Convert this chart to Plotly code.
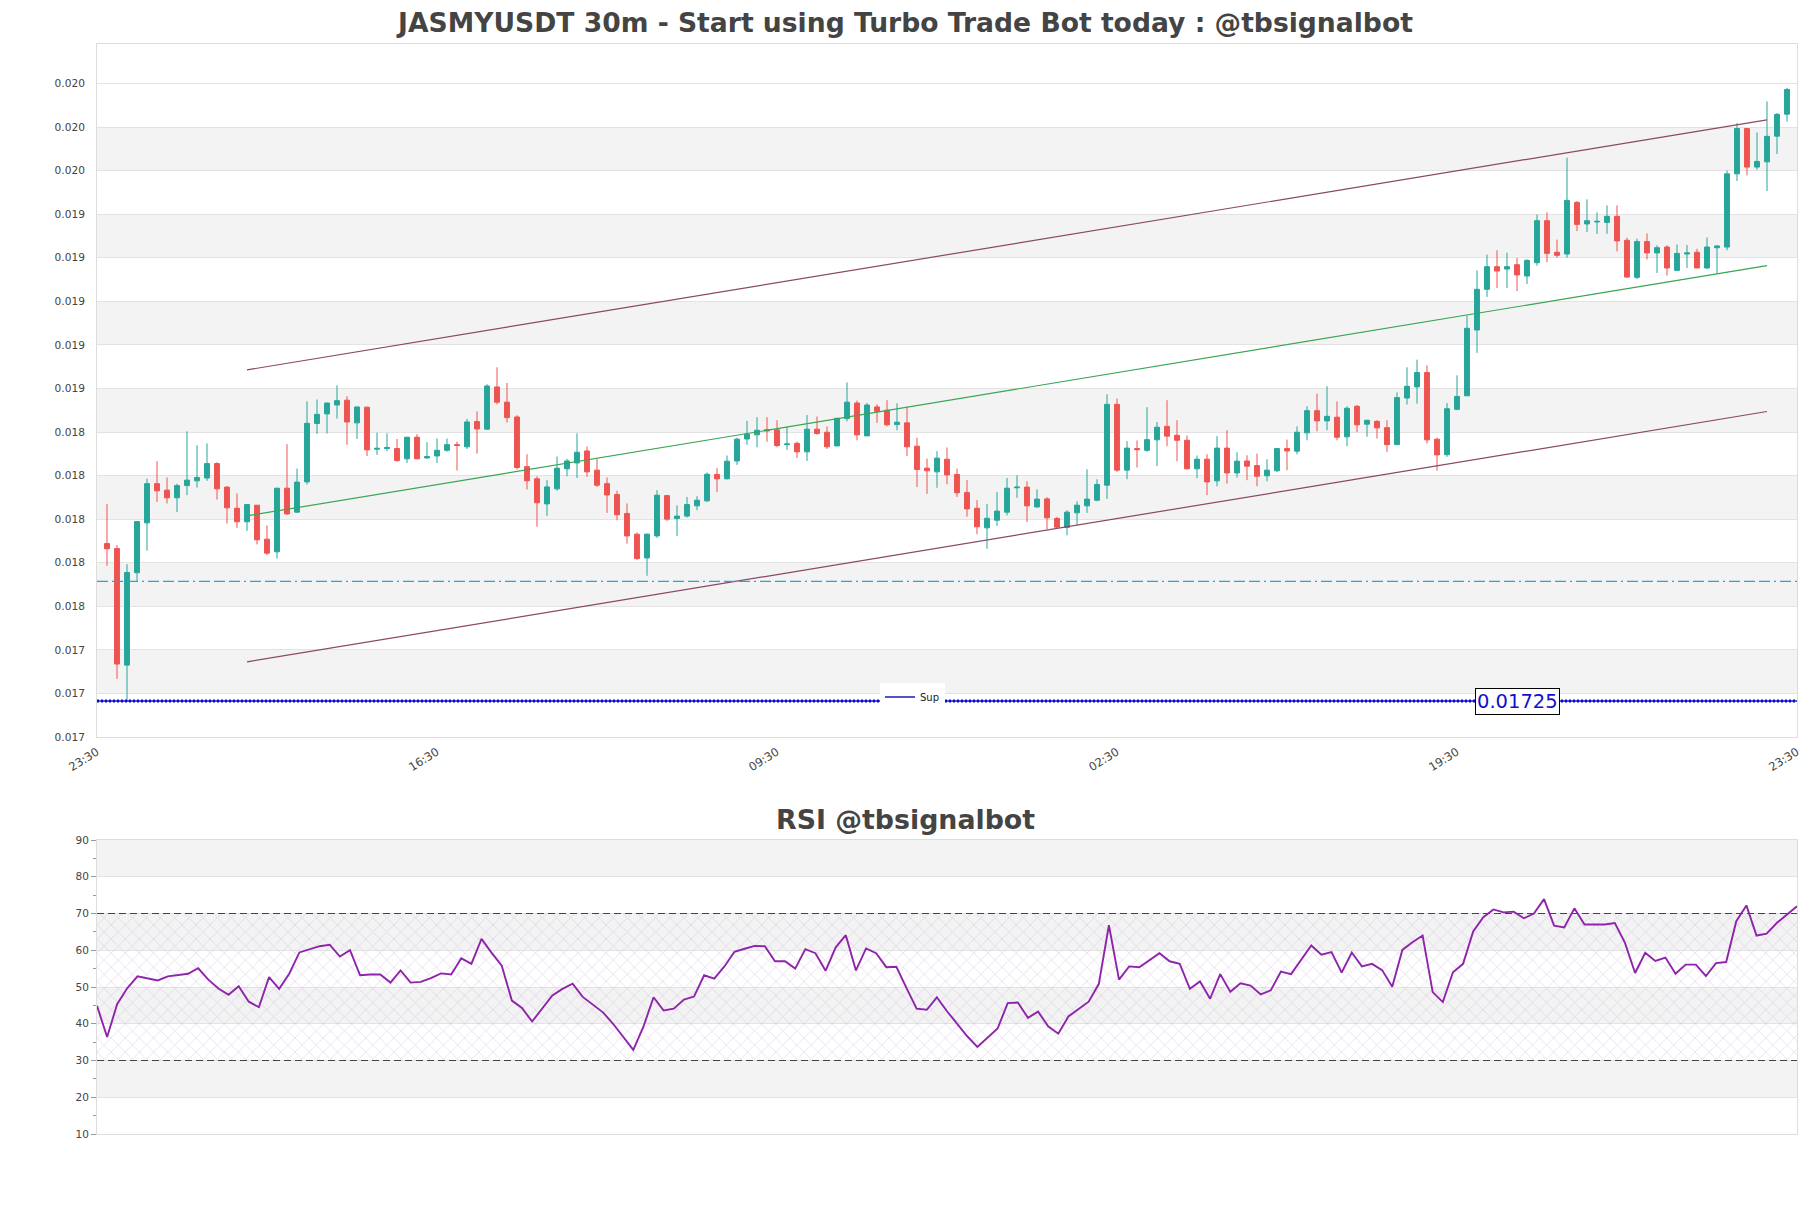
import plotly.graph_objects as go

# ---------------- data (30m candles) ----------------
opens = [0.017973, 0.017950, 0.017415, 0.017839, 0.018068, 0.018248, 0.018218, 0.018183, 0.018239, 0.018261,
         0.018274, 0.018340, 0.018232, 0.018135, 0.018073, 0.018149, 0.017993, 0.017935, 0.018227, 0.018117,
         0.018256, 0.018524, 0.018568, 0.018609, 0.018631, 0.018527, 0.018599, 0.018406, 0.018409, 0.018409,
         0.018362, 0.018461, 0.018366, 0.018375, 0.018401, 0.018427, 0.018417, 0.018533, 0.018498, 0.018692,
         0.018622, 0.018554, 0.018326, 0.018270, 0.018155, 0.018224, 0.018316, 0.018343, 0.018398, 0.018310,
         0.018248, 0.018198, 0.018111, 0.018016, 0.017907, 0.018008, 0.018193, 0.018088, 0.018099, 0.018146,
         0.018169, 0.018290, 0.018270, 0.018352, 0.018453, 0.018472, 0.018496, 0.018495, 0.018427, 0.018433,
         0.018394, 0.018498, 0.018484, 0.018421, 0.018547, 0.018618, 0.018467, 0.018600, 0.018585, 0.018519,
         0.018527, 0.018420, 0.018319, 0.018302, 0.018360, 0.018290, 0.018207, 0.018135, 0.018045, 0.018080,
         0.018117, 0.018229, 0.018232, 0.018141, 0.018178, 0.018088, 0.018047, 0.018114, 0.018146, 0.018172,
         0.018241, 0.018612, 0.018310, 0.018409, 0.018401, 0.018449, 0.018511, 0.018470, 0.018447, 0.018316,
         0.018360, 0.018261, 0.018411, 0.018297, 0.018352, 0.018331, 0.018284, 0.018307, 0.018409, 0.018397,
         0.018481, 0.018583, 0.018536, 0.018553, 0.018463, 0.018603, 0.018521, 0.018534, 0.018505, 0.018427,
         0.018641, 0.018692, 0.018758, 0.018452, 0.018381, 0.018589, 0.018651, 0.018953, 0.019140, 0.019244,
         0.019233, 0.019253, 0.019201, 0.019262, 0.019455, 0.019310, 0.019302, 0.019539, 0.019440, 0.019449,
         0.019447, 0.019475, 0.019365, 0.019195, 0.019359, 0.019307, 0.019334, 0.019227, 0.019302, 0.019310,
         0.019238, 0.019331, 0.019334, 0.019670, 0.019878, 0.019701, 0.019725, 0.019843, 0.019944]
highs = [0.018154, 0.017966, 0.017878, 0.018076, 0.018271, 0.018351, 0.018276, 0.018248, 0.018488, 0.018424,
         0.018433, 0.018346, 0.018236, 0.018203, 0.018152, 0.018149, 0.018056, 0.018229, 0.018429, 0.018317,
         0.018626, 0.018634, 0.018620, 0.018699, 0.018649, 0.018602, 0.018601, 0.018482, 0.018479, 0.018453,
         0.018463, 0.018475, 0.018438, 0.018455, 0.018455, 0.018441, 0.018545, 0.018580, 0.018704, 0.018782,
         0.018710, 0.018562, 0.018383, 0.018282, 0.018264, 0.018372, 0.018362, 0.018479, 0.018418, 0.018362,
         0.018276, 0.018215, 0.018157, 0.018024, 0.018019, 0.018218, 0.018195, 0.018148, 0.018187, 0.018190,
         0.018299, 0.018319, 0.018377, 0.018459, 0.018536, 0.018553, 0.018553, 0.018539, 0.018508, 0.018441,
         0.018563, 0.018556, 0.018511, 0.018550, 0.018713, 0.018629, 0.018618, 0.018612, 0.018631, 0.018617,
         0.018599, 0.018459, 0.018363, 0.018397, 0.018414, 0.018317, 0.018264, 0.018172, 0.018154, 0.018209,
         0.018274, 0.018287, 0.018259, 0.018222, 0.018186, 0.018096, 0.018126, 0.018167, 0.018314, 0.018268,
         0.018658, 0.018638, 0.018443, 0.018446, 0.018599, 0.018531, 0.018631, 0.018539, 0.018469, 0.018377,
         0.018383, 0.018466, 0.018493, 0.018392, 0.018378, 0.018386, 0.018360, 0.018412, 0.018450, 0.018511,
         0.018603, 0.018661, 0.018695, 0.018625, 0.018603, 0.018609, 0.018540, 0.018539, 0.018539, 0.018667,
         0.018782, 0.018817, 0.018791, 0.018459, 0.018618, 0.018745, 0.019019, 0.019227, 0.019299, 0.019319,
         0.019308, 0.019284, 0.019277, 0.019484, 0.019493, 0.019368, 0.019744, 0.019545, 0.019553, 0.019493,
         0.019525, 0.019525, 0.019377, 0.019372, 0.019397, 0.019342, 0.019342, 0.019346, 0.019343, 0.019326,
         0.019378, 0.019342, 0.019686, 0.019903, 0.019881, 0.019860, 0.020002, 0.019949, 0.020065]
lows = [0.017871, 0.017352, 0.017250, 0.017799, 0.017940, 0.018164, 0.018157, 0.018118, 0.018195, 0.018230,
        0.018261, 0.018175, 0.018065, 0.018045, 0.018031, 0.017969, 0.017921, 0.017904, 0.018105, 0.018114,
        0.018244, 0.018476, 0.018478, 0.018547, 0.018426, 0.018453, 0.018375, 0.018380, 0.018397, 0.018348,
        0.018343, 0.018360, 0.018362, 0.018343, 0.018395, 0.018308, 0.018407, 0.018386, 0.018495, 0.018612,
        0.018528, 0.018313, 0.018221, 0.018050, 0.018100, 0.018215, 0.018282, 0.018274, 0.018279, 0.018233,
        0.018114, 0.018080, 0.017972, 0.017898, 0.017825, 0.017999, 0.018077, 0.018008, 0.018092, 0.018126,
        0.018164, 0.018210, 0.018268, 0.018334, 0.018426, 0.018415, 0.018440, 0.018415, 0.018403, 0.018366,
        0.018352, 0.018473, 0.018407, 0.018421, 0.018534, 0.018447, 0.018467, 0.018527, 0.018511, 0.018493,
        0.018374, 0.018232, 0.018201, 0.018229, 0.018245, 0.018187, 0.018096, 0.018016, 0.017949, 0.018054,
        0.018102, 0.018183, 0.018071, 0.018137, 0.018037, 0.018045, 0.018011, 0.018056, 0.018114, 0.018167,
        0.018178, 0.018302, 0.018268, 0.018322, 0.018394, 0.018328, 0.018420, 0.018351, 0.018314, 0.018273,
        0.018195, 0.018236, 0.018248, 0.018276, 0.018264, 0.018236, 0.018259, 0.018302, 0.018310, 0.018383,
        0.018447, 0.018488, 0.018493, 0.018447, 0.018420, 0.018484, 0.018463, 0.018455, 0.018394, 0.018426,
        0.018611, 0.018615, 0.018432, 0.018308, 0.018371, 0.018585, 0.018651, 0.018848, 0.019105, 0.019146,
        0.019146, 0.019132, 0.019164, 0.019248, 0.019265, 0.019285, 0.019285, 0.019407, 0.019403, 0.019394,
        0.019395, 0.019314, 0.019194, 0.019187, 0.019277, 0.019215, 0.019203, 0.019225, 0.019238, 0.019237,
        0.019233, 0.019212, 0.019319, 0.019637, 0.019663, 0.019689, 0.019591, 0.019761, 0.019910]
closes = [0.017949, 0.017420, 0.017840, 0.018074, 0.018248, 0.018215, 0.018183, 0.018239, 0.018264, 0.018276,
          0.018340, 0.018224, 0.018137, 0.018073, 0.018152, 0.017990, 0.017929, 0.018227, 0.018109, 0.018255,
          0.018525, 0.018566, 0.018618, 0.018629, 0.018531, 0.018600, 0.018403, 0.018410, 0.018414, 0.018354,
          0.018461, 0.018362, 0.018372, 0.018401, 0.018427, 0.018423, 0.018531, 0.018499, 0.018696, 0.018622,
          0.018551, 0.018322, 0.018261, 0.018160, 0.018233, 0.018319, 0.018352, 0.018392, 0.018302, 0.018241,
          0.018196, 0.018105, 0.018008, 0.017904, 0.018016, 0.018195, 0.018085, 0.018099, 0.018152, 0.018172,
          0.018291, 0.018270, 0.018351, 0.018452, 0.018475, 0.018493, 0.018490, 0.018423, 0.018430, 0.018394,
          0.018498, 0.018478, 0.018417, 0.018548, 0.018622, 0.018472, 0.018609, 0.018580, 0.018518, 0.018530,
          0.018417, 0.018313, 0.018307, 0.018365, 0.018288, 0.018206, 0.018132, 0.018050, 0.018089, 0.018122,
          0.018227, 0.018232, 0.018146, 0.018177, 0.018091, 0.018048, 0.018117, 0.018149, 0.018177, 0.018244,
          0.018612, 0.018310, 0.018411, 0.018404, 0.018450, 0.018507, 0.018466, 0.018447, 0.018316, 0.018360,
          0.018256, 0.018411, 0.018297, 0.018351, 0.018328, 0.018282, 0.018310, 0.018409, 0.018398, 0.018484,
          0.018583, 0.018536, 0.018557, 0.018461, 0.018594, 0.018518, 0.018539, 0.018504, 0.018427, 0.018643,
          0.018695, 0.018758, 0.018449, 0.018380, 0.018592, 0.018648, 0.018961, 0.019140, 0.019244, 0.019224,
          0.019244, 0.019206, 0.019273, 0.019455, 0.019305, 0.019296, 0.019548, 0.019438, 0.019455, 0.019452,
          0.019475, 0.019362, 0.019196, 0.019359, 0.019307, 0.019331, 0.019238, 0.019305, 0.019307, 0.019238,
          0.019334, 0.019339, 0.019670, 0.019878, 0.019701, 0.019727, 0.019842, 0.019943, 0.020057]
rsi = [44.9, 36.4, 45.4, 49.7, 52.9, 52.4, 51.8, 52.9, 53.3, 53.6,
       55.1, 52.0, 49.6, 47.9, 50.2, 46.0, 44.5, 52.7, 49.5, 53.6,
       59.4, 60.2, 61.1, 61.5, 58.3, 60.0, 53.2, 53.4, 53.4, 51.2,
       54.5, 51.2, 51.4, 52.4, 53.7, 53.4, 57.8, 56.3, 63.1, 59.3,
       55.8, 46.3, 44.3, 40.6, 44.1, 47.7, 49.5, 50.9, 47.3, 45.2,
       43.1, 40.0, 36.5, 32.9, 39.2, 47.2, 43.6, 44.1, 46.6, 47.4,
       53.2, 52.3, 55.6, 59.6, 60.4, 61.2, 61.1, 57.0, 57.0, 55.0,
       60.3, 59.2, 54.4, 60.8, 64.1, 54.5, 60.5, 59.2, 55.4, 55.5,
       49.7, 44.1, 43.8, 47.2, 43.4, 39.9, 36.6, 33.7, 36.1, 38.7,
       45.6, 45.8, 41.6, 43.3, 39.3, 37.3, 42.0, 44.0, 46.0, 50.8,
       66.8, 52.0, 55.6, 55.4, 57.4, 59.2, 57.0, 56.3, 49.5, 51.5,
       46.8, 53.5, 48.7, 51.0, 50.4, 48.0, 49.1, 54.2, 53.5, 57.4,
       61.3, 58.8, 59.5, 53.9, 59.4, 55.6, 56.3, 54.6, 50.1, 60.1,
       62.2, 64.0, 48.6, 45.9, 54.0, 56.3, 65.1, 69.0, 71.1, 70.3,
       70.5, 68.7, 70.0, 73.9, 66.7, 66.2, 71.4, 67.0, 67.0, 67.0,
       67.4, 62.0, 53.8, 59.3, 57.1, 58.0, 53.6, 56.1, 56.1, 53.0,
       56.5, 56.8, 67.9, 72.2, 64.0, 64.5, 67.4, 69.7, 72.0]

x_tick_labels = ["23:30", "16:30", "09:30", "02:30", "19:30", "23:30"]

sup_level = 0.01725
sup_label = "0.01725"
dashed_level = 0.017799

channel_idx = [15, 167]
upper_channel = [0.018770, 0.019918]
lower_channel = [0.017430, 0.018579]
mid_channel = [0.018100, 0.019249]

rsi_levels = [70, 30]

# ---------------- figure ----------------
n = len(closes)
idx = list(range(1, n + 1))
x_max = n + 1
tickvals = [k * x_max / 5 for k in range(6)]

y_tick0 = 0.017085
y_dtick = 0.0002
y_range = [0.017085, 0.020266]

FONT = "DejaVu Sans"
GRID = "#e3e3e3"
BAND = "#f3f3f3"

# page body has an 8px margin: figure sized so it fits the 1811x1208 window
W, H = 1795, 1192
ml, mr, mt, mb = 89, 6, 36, 66
ph = H - mt - mb
pw = W - ml - mr

fig = go.Figure()

shapes = []
for k in range(1, 15, 2):
    shapes.append(dict(type="rect", xref="paper", x0=0, x1=1, yref="y",
                       y0=y_tick0 + k * y_dtick, y1=y_tick0 + (k + 1) * y_dtick,
                       fillcolor=BAND, line=dict(width=0), layer="below"))
for lo in (20, 40, 60, 80):
    shapes.append(dict(type="rect", xref="paper", x0=0, x1=1, yref="y2",
                       y0=lo, y1=lo + 10, fillcolor=BAND, line=dict(width=0), layer="below"))

fig.add_trace(go.Candlestick(
    x=idx, open=opens, high=highs, low=lows, close=closes,
    increasing=dict(line=dict(color="#26a69a", width=1), fillcolor="#26a69a"),
    decreasing=dict(line=dict(color="#ef5350", width=1), fillcolor="#ef5350"),
    showlegend=False, hoverinfo="skip", xaxis="x", yaxis="y"))

fig.add_trace(go.Scatter(x=channel_idx, y=upper_channel, mode="lines",
                         line=dict(color="#8a4866", width=1.2), showlegend=False, hoverinfo="skip"))
fig.add_trace(go.Scatter(x=channel_idx, y=lower_channel, mode="lines",
                         line=dict(color="#8a4866", width=1.2), showlegend=False, hoverinfo="skip"))
fig.add_trace(go.Scatter(x=channel_idx, y=mid_channel, mode="lines",
                         line=dict(color="#3aa553", width=1.2), showlegend=False, hoverinfo="skip"))

fig.add_trace(go.Scatter(x=[0, x_max], y=[dashed_level, dashed_level], mode="lines",
                         line=dict(color="#1fa6e0", width=1.3, dash="11px,4px,11px,4px,11px,4px,2px,4px"),
                         showlegend=False, hoverinfo="skip"))

# support line: solid core (legend) + dotted overlay
fig.add_trace(go.Scatter(x=[0, x_max], y=[sup_level, sup_level], mode="lines", name="Sup",
                         line=dict(color="#1a1ab4", width=1.5),
                         showlegend=True, hoverinfo="skip"))
fig.add_trace(go.Scatter(x=[0, x_max], y=[sup_level, sup_level], mode="lines",
                         line=dict(color="#0a0ad0", width=3, dash="2px,2px"),
                         showlegend=False, hoverinfo="skip"))

fig.add_trace(go.Scatter(x=[1, n, n, 1, 1],
                         y=[rsi_levels[1], rsi_levels[1], rsi_levels[0], rsi_levels[0], rsi_levels[1]],
                         mode="lines", fill="toself", line=dict(width=0),
                         fillcolor="rgba(0,0,0,0)",
                         fillpattern=dict(shape="x", fgcolor="rgba(195,170,215,0.9)",
                                          bgcolor="rgba(0,0,0,0)", size=10, solidity=0.14),
                         showlegend=False, hoverinfo="skip", xaxis="x2", yaxis="y2"))

for lvl in rsi_levels:
    fig.add_trace(go.Scatter(x=[1, n], y=[lvl, lvl], mode="lines",
                             line=dict(color="#444444", width=1.2, dash="7px,4px"),
                             showlegend=False, hoverinfo="skip", xaxis="x2", yaxis="y2"))

fig.add_trace(go.Scatter(x=idx, y=rsi, mode="lines",
                         line=dict(color="#8e24aa", width=1.9),
                         showlegend=False, hoverinfo="skip", xaxis="x2", yaxis="y2"))

fig.update_layout(
    width=W, height=H,
    margin=dict(l=ml, r=mr, t=mt, b=mb, autoexpand=False),
    paper_bgcolor="white", plot_bgcolor="white",
    font=dict(family=FONT, size=10, color="#444444"),
    title=dict(text="JASMYUSDT 30m - Start using Turbo Trade Bot today : @tbsignalbot",
               x=(905.5 - 8) / W, xanchor="center", xref="container",
               y=1 - 15 / H, yanchor="middle", yref="container",
               font=dict(family=FONT, size=26.6, color="#444444", weight="bold")),
    shapes=shapes,
    showlegend=True,
    legend=dict(x=(880 - 8 - ml) / pw, y=(1126 - 689) / ph, xanchor="left", yanchor="middle",
                bgcolor="white", font=dict(size=10, color="#222222"),
                borderwidth=0, itemwidth=30),
    xaxis=dict(domain=[0, 1], anchor="y", range=[0, x_max],
               tickmode="array", tickvals=tickvals, ticktext=x_tick_labels,
               tickangle=-32, showgrid=False, zeroline=False,
               showline=True, mirror=True, linecolor="#dddddd", linewidth=1,
               ticks="outside", ticklen=3, tickcolor="rgba(0,0,0,0)",
               rangeslider=dict(visible=False), tickfont=dict(size=11.5, color="#444444")),
    yaxis=dict(domain=[(1126 - 729) / ph, 1], anchor="x", range=y_range,
               tick0=y_tick0, dtick=y_dtick, tickformat=".3f",
               showgrid=True, gridcolor=GRID, gridwidth=1, zeroline=False,
               showline=True, mirror=True, linecolor="#dddddd", linewidth=1,
               ticks="", ticklabelstandoff=9, tickfont=dict(size=10.6, color="#444444")),
    xaxis2=dict(domain=[0, 1], anchor="y2", range=[1, n], showticklabels=False,
                showgrid=False, zeroline=False, ticks="",
                showline=True, mirror=True, linecolor="#dddddd", linewidth=1),
    yaxis2=dict(domain=[0, (1126 - 832) / ph], anchor="x2", range=[10, 90],
                tickmode="linear", tick0=10, dtick=10,
                showgrid=True, gridcolor=GRID, gridwidth=1, zeroline=False,
                showline=True, mirror=True, linecolor="#dddddd", linewidth=1,
                ticks="outside", ticklen=5, tickcolor="#999999",
                minor=dict(ticks="outside", ticklen=3, dtick=5, tickcolor="#999999", showgrid=False),
                tickfont=dict(size=10.5, color="#444444")),
    annotations=[
        dict(text="<b>RSI @tbsignalbot</b>", xref="paper", yref="paper",
             x=(905.5 - 8 - ml) / pw, y=(1126 - 811) / ph,
             xanchor="center", yanchor="middle", showarrow=False,
             font=dict(family=FONT, size=26.8, color="#444444")),
        dict(text=sup_label, xref="x", yref="y", x=142, y=sup_level,
             xanchor="center", yanchor="middle", showarrow=False,
             font=dict(family=FONT, size=19.5, color="#1010d0"),
             bgcolor="white", bordercolor="#000000", borderwidth=1, borderpad=1),
    ],
)

fig.write_html("out.html")
